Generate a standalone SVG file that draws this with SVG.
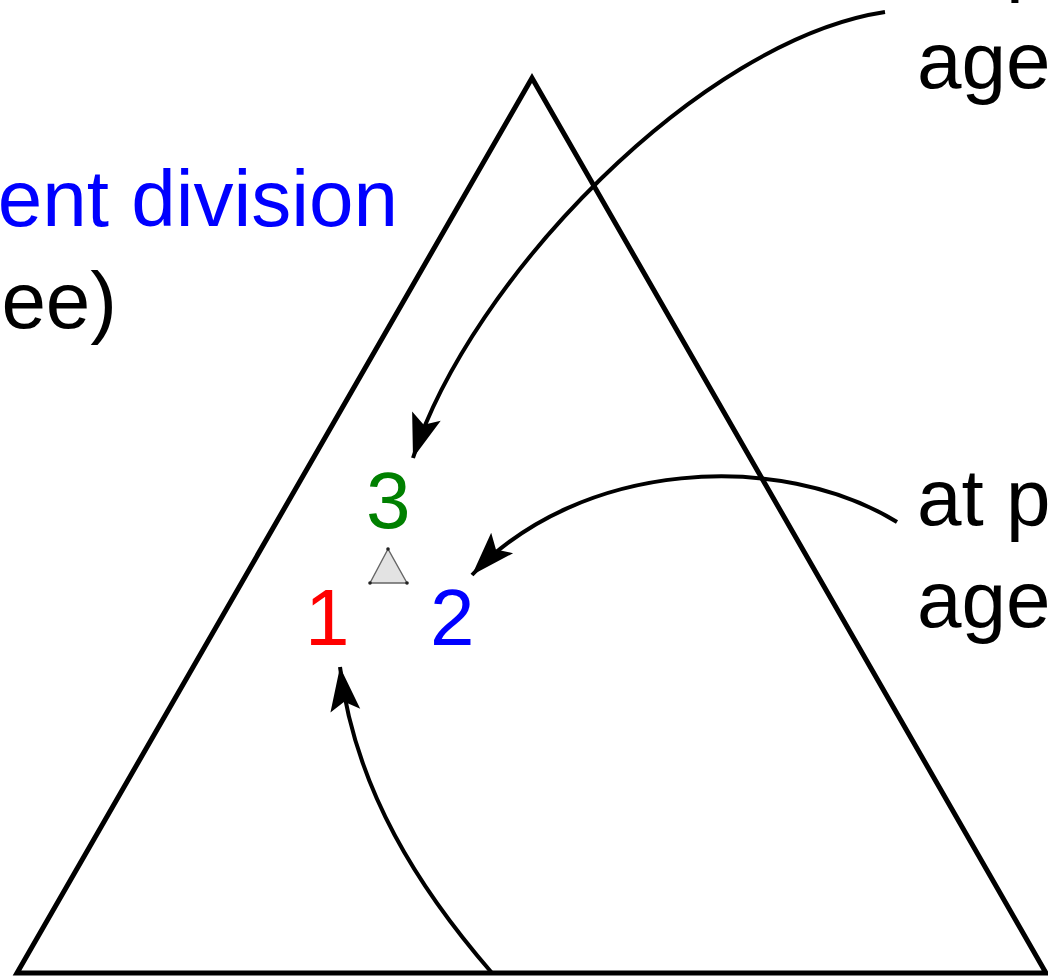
<svg xmlns="http://www.w3.org/2000/svg" width="1048" height="979" viewBox="0 0 1048 979">
<style>
text{font-family:"Liberation Sans",Arial,sans-serif;font-size:80px}
.lbl{fill:#000}
.conn{fill:none;stroke:#000;stroke-width:4}
</style>
<defs>
<marker id="ah" markerUnits="userSpaceOnUse" markerWidth="50" markerHeight="40" viewBox="-46 -20 50 40" refX="0" refY="0" orient="auto">
<path d="M0,0 L-44,-15 L-35,0 L-44,15 Z" fill="#000"/>
</marker>
</defs>
<rect width="1048" height="979" fill="#fff"/>
<g id="tree">
<polygon points="532,78 17,973 1046,973" fill="none" stroke="#000" stroke-width="5" stroke-linejoin="miter"/>
</g>
<g id="current-division">
<text x="398" y="226" text-anchor="end" fill="#0000ff">ent division</text>
<text x="117" y="328" text-anchor="end" class="lbl">ee)</text>
</g>
<g id="label-top">
<text x="917" y="-14" class="lbl">at p</text>
<text x="917" y="88" class="lbl">age</text>
</g>
<g id="label-mid">
<text x="917" y="525" class="lbl">at p</text>
<text x="917" y="627" class="lbl">age</text>
</g>
<g id="node-triangle">
<polygon points="388,549 370,583 407,583" fill="#e3e3e3" stroke="#666" stroke-width="1.4"/>
<circle cx="388" cy="549" r="1.8" fill="#222"/>
<circle cx="370" cy="583" r="1.8" fill="#222"/>
<circle cx="407" cy="583" r="1.8" fill="#222"/>
</g>
<g id="n3"><text x="366" y="528" fill="#008000">3</text></g>
<g id="n1"><text x="305" y="645" fill="#ff0000">1</text></g>
<g id="n2"><text x="430" y="645" fill="#0000ff">2</text></g>
<g id="connectors">
<path class="conn" d="M885,12 C700,40 470,280 413,458" marker-end="url(#ah)"/>
<path class="conn" d="M897,522 C780,450 580,460 472,575" marker-end="url(#ah)"/>
<path class="conn" d="M492,973 C420,890 355,790 340,667" marker-end="url(#ah)"/>
</g>
</svg>
